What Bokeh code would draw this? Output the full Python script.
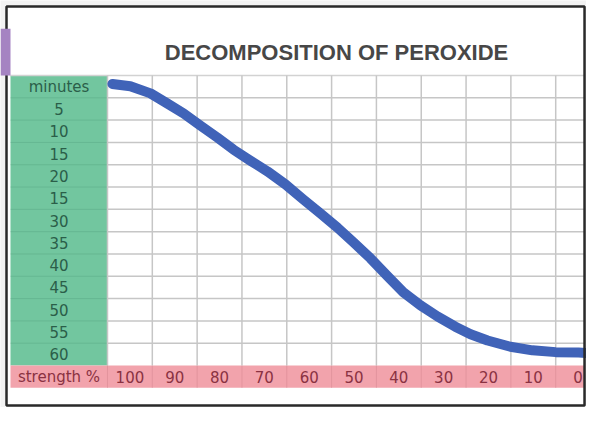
from bokeh.plotting import figure
from bokeh.models import Range1d
from bokeh.core.properties import value
from bokeh.embed import file_html
from bokeh.resources import INLINE

# ---- data ----
title_text = "DECOMPOSITION OF PEROXIDE"
minute_labels = ["minutes", "5", "10", "15", "20", "15", "30", "35", "40", "45", "50", "55", "60"]
minute_values = [0, 5, 10, 15, 20, 25, 30, 35, 40, 45, 50, 55, 60]
strength_header = "strength %"
strength_labels = ["100", "90", "80", "70", "60", "50", "40", "30", "20", "10", "0"]
strength_values = [100, 90, 80, 70, 60, 50, 40, 30, 20, 10, 0]

# curve (strength %, minutes)
curve_strength = [103.9, 99.9, 95.4, 91.6, 88.0, 84.3, 80.5, 76.9, 73.1, 69.3, 65.3, 61.3,
                  57.5, 53.7, 50.1, 46.3, 42.5, 39.0, 35.2, 31.4, 27.4, 24.0, 20.2, 15.1,
                  10.2, 5.0, -0.1, -5.0]
curve_minutes = [-0.6, -0.1, 1.5, 3.8, 6.0, 8.7, 11.4, 14.1, 16.6, 19.0, 21.9, 25.3,
                 28.4, 31.6, 34.9, 38.5, 42.5, 46.1, 49.0, 51.5, 53.8, 55.5, 56.9, 58.3,
                 59.1, 59.5, 59.6, 59.9]

# ---- layout ----
col_step = 10.0
row_step = 5.0
x_left_edge = 128.87
x_right_edge = -1.87
y_top_edge = -19.31
y_bottom_edge = 71.91

p = figure(width=586, height=407,
           x_range=Range1d(x_left_edge, x_right_edge),
           y_range=Range1d(y_bottom_edge, y_top_edge),
           x_axis_type=None, y_axis_type=None,
           output_backend="svg", toolbar_location=None, min_border=0)
p.grid.visible = False
p.background_fill_color = "#f3f3f3"
p.border_fill_color = "#f3f3f3"
p.outline_line_color = None

grid_left = max(strength_values) + col_step / 2          # 105
label_col_left = grid_left + 21.64                        # left edge of green column
grid_top = min(minute_values) - row_step / 2              # -2.5
grid_bottom = max(minute_values) + row_step / 2           # 62.5
pink_bottom = grid_bottom + row_step                      # 67.5
label_x = (grid_left + label_col_left) / 2

frame_left, frame_right = 127.53, -1.43
frame_top, frame_bottom = -17.96, 71.46

# white card
p.quad(left=[frame_left], right=[frame_right], top=[frame_top], bottom=[frame_bottom],
       fill_color="white", line_color=None)

# green label column
p.quad(left=[label_col_left], right=[grid_left], top=[grid_top], bottom=[grid_bottom],
       fill_color="#72c69f", line_color=None)
# pink strength row
p.quad(left=[label_col_left], right=[frame_right], top=[grid_bottom], bottom=[pink_bottom],
       fill_color="#f2a3ac", line_color=None)

# horizontal grid lines
hy = [m + row_step / 2 for m in minute_values[:-1]]
p.segment(x0=[grid_left] * len(hy), x1=[frame_right] * len(hy), y0=hy, y1=hy,
          line_color="#c6c6c6", line_width=1.5)
p.segment(x0=[label_col_left] * len(hy), x1=[grid_left] * len(hy), y0=hy, y1=hy,
          line_color="#4f9f7c", line_width=1, line_alpha=0.35)
p.segment(x0=[label_col_left], x1=[frame_right], y0=[grid_top], y1=[grid_top],
          line_color="#d2d2d2", line_width=1.5)

# vertical grid lines
vx = [s + col_step / 2 for s in strength_values]
p.segment(x0=vx, x1=vx, y0=[grid_top] * len(vx), y1=[grid_bottom] * len(vx),
          line_color="#c6c6c6", line_width=1.5)
p.segment(x0=vx, x1=vx, y0=[grid_bottom] * len(vx), y1=[pink_bottom] * len(vx),
          line_color="#d98a94", line_width=1, line_alpha=0.6)

# curve
p.line(curve_strength, curve_minutes, line_color="#4063b8", line_width=10,
       line_cap="round", line_join="round")

# card border
p.quad(left=[frame_left], right=[frame_right], top=[frame_top], bottom=[frame_bottom],
       fill_color=None, line_color="#2a2a2a", line_width=2.5)

# purple tab at left edge
p.quad(left=[x_left_edge], right=[label_col_left], top=[grid_top - 10.5], bottom=[grid_top],
       fill_color="#a583c2", line_color=None)

# row labels
p.text(x=[label_x] * len(minute_labels), y=minute_values, text=minute_labels,
       text_align="center", text_baseline="middle",
       text_font=value("DejaVu Sans"), text_font_size="15px", text_color="#2b5e49")

# strength labels
p.text(x=strength_values, y=[grid_bottom + row_step / 2] * len(strength_values), text=strength_labels,
       text_align="center", text_baseline="middle",
       text_font=value("DejaVu Sans"), text_font_size="15px", text_color="#8a3242")
p.text(x=[label_x], y=[grid_bottom + row_step / 2], text=[strength_header],
       text_align="center", text_baseline="middle",
       text_font=value("DejaVu Sans"), text_font_size="15px", text_color="#8a3242")

# title
p.text(x=[53.9], y=[grid_top - 5.15], text=[title_text],
       text_align="center", text_baseline="middle",
       text_font=value("Liberation Sans"), text_font_style="bold",
       text_font_size="22px", text_color="#474747")

open("out.html", "w").write(file_html(p, INLINE))
